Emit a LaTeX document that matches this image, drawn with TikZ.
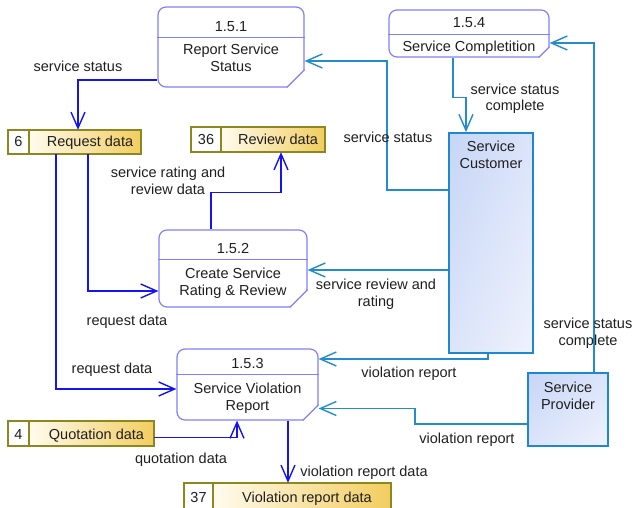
\documentclass[tikz,border=0pt]{standalone}
\usepackage{fontspec}
\setmainfont{Liberation Sans}
\usetikzlibrary{arrows.meta,shadings}

\definecolor{procline}{RGB}{128,128,250}
\definecolor{dflow}{RGB}{20,20,240}
\definecolor{eflow}{RGB}{35,140,205}
\definecolor{entline}{RGB}{30,135,210}
\definecolor{entA}{RGB}{198,214,246}
\definecolor{entB}{RGB}{240,242,253}
\definecolor{storeline}{RGB}{140,135,30}
\definecolor{storeA}{RGB}{255,251,238}
\definecolor{storeB}{RGB}{242,205,95}

\tikzset{
  lbl/.style={anchor=base, align=center, inner sep=0pt, text=black!88,
    font=\fontsize{14.5}{17}\selectfont},
  proc/.style={draw=procline, line width=1.2pt, rounded corners=8pt, fill=white, inner sep=0pt},
  ent/.style={draw=entline, line width=1.8pt, inner sep=0pt,
    upper left=entA, lower right=entB, upper right=entA!50!entB, lower left=entA!50!entB},
  dflowline/.style={draw=dflow, line width=1.4pt, ->},
  eflowline/.style={draw=eflow, line width=1.4pt, ->},
}

% divider line and folded lower right corner of a process box
\newcommand\procshape[3]{%
  \fill[white] ([xshift=-#3]#1.south east) -- ++(0pt,-2pt)
    -- ([shift={(2pt,-2pt)}]#1.south east) -- ([shift={(2pt,#3)}]#1.south east)
    -- ([yshift=#3]#1.south east) -- cycle;
  \draw[procline, line width=1.2pt] ([xshift=-#3]#1.south east) -- ([yshift=#3]#1.south east);
  \draw[procline, line width=1.2pt] ([yshift=-#2]#1.north west) -- ([yshift=-#2]#1.north east);
}

% data store: name, x1, y1, x2, y2, divider x, number, label
\newcommand\datastore[8]{%
  \node[inner sep=0pt, minimum width={(#4)-(#2)}, minimum height={(#5)-(#3)}] (#1)
    at ({((#2)+(#4))/2},{((#3)+(#5))/2}) {};
  \fill[white] (#2,#3) rectangle (#6,#5);
  \shade[left color=storeA, right color=storeB] (#6,#3) rectangle (#4,#5);
  \draw[storeline, line width=1.3pt] (#2,#3) rectangle (#4,#5) (#6,#3) -- (#6,#5);
  \node[lbl] at ({((#2)+(#6))/2},{(#5)-7}) {#7};
  \node[lbl] at ({((#6)+(#4))/2+5},{(#5)-7}) {#8};
}

\begin{document}
\begin{tikzpicture}[x=1pt, y=-1pt, >={Straight Barb[length=16pt,width=14pt]}]
\useasboundingbox (0,0) rectangle (632,508);

% processes (multi-line texts are placed by the baseline of their last line)
\node[proc, minimum width=146pt, minimum height=80pt] (p151) at (231,47) {};
\procshape{p151}{31pt}{18pt}
\node[lbl] at (231,32) {1.5.1};
\node[lbl] at (231,72) {Report Service\\Status};

\node[proc, minimum width=160pt, minimum height=47pt] (p154) at (469,33.5) {};
\procshape{p154}{25pt}{11pt}
\node[lbl] at (469,28) {1.5.4};
\node[lbl] at (469,52) {Service Completition};

\node[proc, minimum width=148pt, minimum height=77pt] (p152) at (233,268.5) {};
\procshape{p152}{30pt}{18pt}
\node[lbl] at (233,253) {1.5.2};
\node[lbl] at (233,295) {Create Service\\Rating \& Review};

\node[proc, minimum width=141pt, minimum height=71pt] (p153) at (247.5,384.5) {};
\procshape{p153}{26pt}{16pt}
\node[lbl] at (247.5,368) {1.5.3};
\node[lbl] at (247.5,410) {Service Violation\\Report};

% external entities
\node[ent, minimum width=84pt, minimum height=220pt] (cust) at (491,243) {};
\node[lbl] at (491,168) {Service\\Customer};
\node[ent, minimum width=80pt, minimum height=73pt] (prov) at (568,409.5) {};
\node[lbl] at (568,409) {Service\\Provider};

% data stores
\datastore{ds6}{8}{130}{141}{154}{29}{6}{Request data}
\datastore{ds36}{191}{127}{325}{152}{221}{36}{Review data}
\datastore{ds4}{8}{421}{154}{446}{29}{4}{Quotation data}
\datastore{ds37}{184}{483}{391}{509}{213}{37}{Violation report data}

% data flows between processes and stores
\draw[dflowline] ([yshift=-33pt]p151.west) -| ([xshift=3.5pt]ds6.north);
\draw[dflowline] ([xshift=13.5pt]ds6.south) |- ([yshift=-22.5pt]p152.west);
\draw[dflowline] ([xshift=-18.5pt]ds6.south) |- ([yshift=-4.5pt]p153.west);
\draw[dflowline] ([xshift=-22pt]p152.north) -- ++(0,-37) -| ([xshift=23pt]ds36.south);
\draw[dflowline] ([yshift=-4pt]ds4.east) -| ([xshift=-10.5pt]p153.south);
\draw[dflowline] ([xshift=40.5pt]p153.south) -- ([xshift=40.5pt]p153.south |- ds37.north);

% flows from the external entities
\draw[eflowline] ([yshift=53pt]cust.west) -- ++(-61,0) |- ([yshift=-14pt]p151.east);
\draw[eflowline] ([xshift=-16pt]p154.south) -- ++(0,40) -| ([xshift=-25pt]cust.north);
\draw[eflowline] ([xshift=26pt]prov.north) |- ([yshift=-9.5pt]p154.east);
\draw[eflowline] ([yshift=-27pt]cust.west) -- ([yshift=-27pt]cust.west -| p152.east);
\draw[eflowline] ([xshift=-3pt]cust.south) |- ([yshift=25.5pt]p153.east);
\draw[eflowline] ([yshift=-14.5pt]prov.west) -- ++(-112,0) |- ([yshift=-24pt]p153.east);

% flow labels
\node[lbl] at (78,72) {service status};
\node[lbl] at (388,143) {service status};
\node[lbl] at (515,111) {service status\\complete};
\node[lbl] at (588,345) {service status\\complete};
\node[lbl] at (168,194) {service rating and\\review data};
\node[lbl] at (376,306) {service review and\\rating};
\node[lbl] at (127,325) {request data};
\node[lbl] at (112,373) {request data};
\node[lbl] at (409,377) {violation report};
\node[lbl] at (467,443) {violation report};
\node[lbl] at (181,463) {quotation data};
\node[lbl] at (364,476) {violation report data};
\end{tikzpicture}
\end{document}
